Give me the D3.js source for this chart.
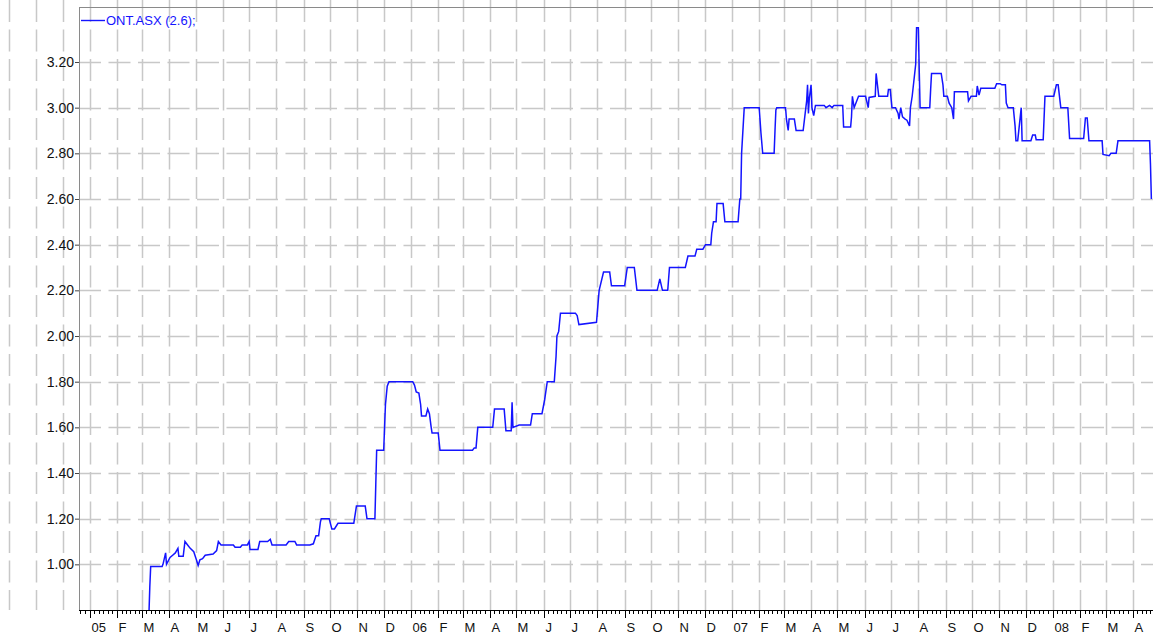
<!DOCTYPE html>
<html>
<head>
<meta charset="utf-8">
<script src="https://cdn.jsdelivr.net/npm/d3@7"></script>
<style>
  html, body { margin: 0; padding: 0; background: #fff; }
  svg { display: block; }
  text { font-family: "Liberation Sans", Arial, sans-serif; }
</style>
</head>
<body>
<div id="chart"></div>
<script>
// ONT.ASX daily close

const seriesName = "ONT.ASX (2.6);";

const tradeDates = [
  "2005-03-09","2005-03-10","2005-03-11","2005-03-24","2005-03-25","2005-03-28","2005-03-29","2005-04-02",
  "2005-04-05","2005-04-08","2005-04-11","2005-04-12","2005-04-17","2005-04-19","2005-04-22","2005-04-25",
  "2005-04-29","2005-05-02","2005-05-04","2005-05-06","2005-05-09","2005-05-12","2005-05-21","2005-05-25",
  "2005-05-27","2005-05-30","2005-06-13","2005-06-15","2005-06-21","2005-06-23","2005-06-29","2005-07-01",
  "2005-07-02","2005-07-11","2005-07-13","2005-07-22","2005-07-25","2005-07-27","2005-08-12","2005-08-15",
  "2005-08-22","2005-08-24","2005-09-08","2005-09-12","2005-09-15","2005-09-18","2005-09-20","2005-09-21",
  "2005-09-30","2005-10-03","2005-10-06","2005-10-10","2005-10-28","2005-10-31","2005-11-10","2005-11-12",
  "2005-11-21","2005-11-22","2005-11-23","2005-12-01","2005-12-02","2005-12-03","2005-12-05","2005-12-07",
  "2006-01-03","2006-01-05","2006-01-07","2006-01-10","2006-01-12","2006-01-13","2006-01-18","2006-01-20",
  "2006-01-22","2006-01-24","2006-01-25","2006-02-01","2006-02-03","2006-03-12","2006-03-14","2006-03-16",
  "2006-03-18","2006-04-04","2006-04-06","2006-04-17","2006-04-19","2006-04-25","2006-04-26","2006-04-27",
  "2006-05-04","2006-05-17","2006-05-19","2006-05-30","2006-06-01","2006-06-02","2006-06-05","2006-06-13",
  "2006-06-15","2006-06-16","2006-06-18","2006-06-20","2006-07-07","2006-07-09","2006-07-11","2006-07-31",
  "2006-08-03","2006-08-08","2006-08-15","2006-08-17","2006-09-01","2006-09-04","2006-09-12","2006-09-15",
  "2006-10-08","2006-10-11","2006-10-14","2006-10-20","2006-10-22","2006-11-09","2006-11-12","2006-11-20",
  "2006-11-22","2006-11-29","2006-12-02","2006-12-08","2006-12-09","2006-12-11","2006-12-14","2006-12-15",
  "2006-12-22","2006-12-24","2007-01-08","2007-01-10","2007-01-11","2007-01-12","2007-01-15","2007-02-01",
  "2007-02-02","2007-02-03","2007-02-05","2007-02-18","2007-02-19","2007-02-20","2007-02-21","2007-03-03",
  "2007-03-04","2007-03-06","2007-03-07","2007-03-13","2007-03-15","2007-03-23","2007-03-25","2007-03-27",
  "2007-03-28","2007-03-29","2007-03-30","2007-04-01","2007-04-02","2007-04-04","2007-04-06","2007-04-16",
  "2007-04-18","2007-04-22","2007-04-25","2007-04-27","2007-05-07","2007-05-08","2007-05-16","2007-05-17",
  "2007-05-18","2007-05-20","2007-05-25","2007-06-02","2007-06-05","2007-06-06","2007-06-13","2007-06-14",
  "2007-06-17","2007-06-27","2007-06-28","2007-06-30","2007-07-02","2007-07-06","2007-07-09","2007-07-10",
  "2007-07-12","2007-07-14","2007-07-17","2007-07-19","2007-07-22","2007-07-23","2007-07-25","2007-07-29",
  "2007-07-30","2007-08-01","2007-08-02","2007-08-03","2007-08-14","2007-08-15","2007-08-16","2007-08-27",
  "2007-08-29","2007-08-30","2007-09-03","2007-09-05","2007-09-08","2007-09-10","2007-09-11","2007-09-26",
  "2007-09-27","2007-09-30","2007-10-06","2007-10-07","2007-10-09","2007-10-11","2007-10-27","2007-10-29",
  "2007-11-02","2007-11-04","2007-11-08","2007-11-09","2007-11-11","2007-11-17","2007-11-19","2007-11-20",
  "2007-11-22","2007-11-26","2007-11-27","2007-12-07","2007-12-09","2007-12-12","2007-12-13","2007-12-21",
  "2007-12-23","2008-01-02","2008-01-05","2008-01-07","2008-01-10","2008-01-18","2008-01-20","2008-02-05",
  "2008-02-07","2008-02-09","2008-02-11","2008-02-26","2008-02-27","2008-03-05","2008-03-07","2008-03-13",
  "2008-03-15","2008-04-20","2008-04-21","2008-04-22"
];

const closes = [
  0.78, 0.90, 0.99, 0.99, 1.00, 1.05, 1.00, 1.03,
  1.04, 1.05, 1.07, 1.035, 1.035, 1.10, 1.085, 1.07,
  1.055, 1.02, 0.995, 1.02, 1.025, 1.04, 1.045, 1.06,
  1.10, 1.085, 1.085, 1.075, 1.075, 1.085, 1.085, 1.10,
  1.065, 1.065, 1.10, 1.10, 1.11, 1.085, 1.085, 1.10,
  1.10, 1.085, 1.085, 1.09, 1.125, 1.125, 1.185, 1.20,
  1.20, 1.155, 1.155, 1.18, 1.18, 1.255, 1.255, 1.20,
  1.20, 1.35, 1.50, 1.50, 1.60, 1.70, 1.78, 1.80,
  1.80, 1.785, 1.755, 1.75, 1.70, 1.65, 1.65, 1.68,
  1.66, 1.60, 1.575, 1.575, 1.50, 1.50, 1.51, 1.51,
  1.60, 1.60, 1.68, 1.68, 1.585, 1.585, 1.71, 1.60,
  1.61, 1.61, 1.66, 1.66, 1.70, 1.72, 1.80, 1.80,
  1.91, 2.00, 2.02, 2.10, 2.10, 2.09, 2.05, 2.06,
  2.20, 2.28, 2.28, 2.22, 2.22, 2.30, 2.30, 2.20,
  2.20, 2.25, 2.20, 2.20, 2.30, 2.30, 2.35, 2.35,
  2.38, 2.38, 2.40, 2.40, 2.45, 2.50, 2.50, 2.58,
  2.58, 2.50, 2.50, 2.60, 2.60, 2.80, 3.00, 3.00,
  2.945, 2.89, 2.80, 2.80, 2.90, 2.99, 3.00, 3.00,
  2.95, 2.90, 2.95, 2.95, 2.90, 2.90, 2.965, 3.03,
  3.10, 2.975, 3.04, 3.10, 3.00, 2.965, 3.01, 3.01,
  3.00, 3.01, 3.00, 3.01, 3.01, 2.915, 2.915, 2.96,
  3.05, 3.00, 3.05, 3.05, 3.00, 3.045, 3.05, 3.15,
  3.05, 3.05, 3.08, 3.08, 3.00, 3.00, 2.975, 2.95,
  3.00, 2.96, 2.95, 2.945, 2.92, 3.00, 3.05, 3.19,
  3.35, 3.35, 3.165, 3.00, 3.00, 3.08, 3.15, 3.15,
  3.10, 3.05, 3.05, 3.02, 3.00, 2.95, 3.07, 3.07,
  3.03, 3.05, 3.05, 3.095, 3.055, 3.085, 3.085, 3.105,
  3.105, 3.10, 3.10, 3.02, 3.00, 3.00, 2.92, 2.855,
  2.855, 3.00, 2.855, 2.855, 2.88, 2.88, 2.86, 2.86,
  3.05, 3.05, 3.10, 3.10, 3.00, 3.00, 2.865, 2.865,
  2.955, 2.955, 2.855, 2.855, 2.795, 2.79, 2.80, 2.80,
  2.855, 2.855, 2.75, 2.60
];

const yTickValues = [1.00, 1.20, 1.40, 1.60, 1.80, 2.00, 2.20, 2.40, 2.60, 2.80, 3.00, 3.20];
const monthInitials = ["J", "F", "M", "A", "M", "J", "J", "A", "S", "O", "N", "D"];

const width = 1153;
const height = 635;
const plot = { left: 79, top: 7, right: 1170, bottom: 610 };

const parse = d3.utcParse("%Y-%m-%d");
const data = tradeDates.map((d, i) => ({ date: parse(d), close: closes[i] }));

const x = d3.scaleUtc()
  .domain([parse("2005-01-01"), parse("2008-04-01")])
  .range([90, 1132.9]);

const y = d3.scaleLinear()
  .domain([0.8, 3.2])
  .range([plot.bottom, 62]);

const svg = d3.select("#chart").append("svg")
  .attr("width", width)
  .attr("height", height);

svg.append("rect").attr("width", width).attr("height", height).attr("fill", "#fff");

const gridColor = "#c8c8c8";
const dash = "22,7.5";

// vertical grid: one per month, runs over the whole picture incl. left margin
const gridMonths = d3.utcMonth.range(parse("2004-10-01"), parse("2008-06-01"));
svg.append("g")
  .selectAll("line")
  .data(gridMonths)
  .join("line")
  .attr("x1", d => Math.round(x(d)) + 0.5)
  .attr("x2", d => Math.round(x(d)) + 0.5)
  .attr("y1", 0)
  .attr("y2", plot.bottom)
  .attr("stroke", gridColor)
  .attr("stroke-width", 1.5)
  .attr("stroke-dasharray", dash);

// horizontal grid
svg.append("g")
  .selectAll("line")
  .data(yTickValues)
  .join("line")
  .attr("x1", plot.left)
  .attr("x2", width)
  .attr("y1", d => Math.round(y(d)) + 0.5)
  .attr("y2", d => Math.round(y(d)) + 0.5)
  .attr("stroke", gridColor)
  .attr("stroke-width", 1.5)
  .attr("stroke-dasharray", dash);

// frame: grey top and left, black bottom
svg.append("line")
  .attr("x1", plot.left).attr("x2", width)
  .attr("y1", plot.top + 0.5).attr("y2", plot.top + 0.5)
  .attr("stroke", "#8a8a8a");
svg.append("line")
  .attr("x1", plot.left + 0.5).attr("x2", plot.left + 0.5)
  .attr("y1", plot.top).attr("y2", plot.bottom)
  .attr("stroke", "#8a8a8a");

// y axis
const yAxis = svg.append("g")
  .attr("transform", `translate(${plot.left},0)`)
  .call(d3.axisLeft(y).tickValues(yTickValues).tickFormat(d3.format(".2f")).tickSize(4).tickPadding(1));
yAxis.select(".domain").remove();
yAxis.selectAll(".tick line").attr("stroke", "#444");
yAxis.selectAll("text").attr("font-size", 14).attr("fill", "#111").attr("font-family", null);

// x axis: minor ticks every 5 days, major at month starts
const xg = svg.append("g").attr("transform", `translate(0,${plot.bottom})`);
xg.append("line")
  .attr("x1", plot.left).attr("x2", width)
  .attr("y1", 0.5).attr("y2", 0.5)
  .attr("stroke", "#000");

const minorDays = d3.utcDay.range(parse("2004-12-01"), parse("2008-06-01"))
  .filter(d => [6, 11, 16, 21, 26].includes(d.getUTCDate()))
  .filter(d => x(d) > plot.left && x(d) < width);
xg.selectAll(".minor")
  .data(minorDays)
  .join("line")
  .attr("class", "minor")
  .attr("x1", d => Math.round(x(d)) + 0.5)
  .attr("x2", d => Math.round(x(d)) + 0.5)
  .attr("y1", 0).attr("y2", 4)
  .attr("stroke", "#000");

const tickMonths = d3.utcMonth.range(parse("2005-01-01"), parse("2008-05-01"))
  .filter(d => x(d) < width);
xg.selectAll(".major")
  .data(tickMonths)
  .join("line")
  .attr("class", "major")
  .attr("x1", d => Math.round(x(d)) + 0.5)
  .attr("x2", d => Math.round(x(d)) + 0.5)
  .attr("y1", 0).attr("y2", 8)
  .attr("stroke", "#000");

xg.selectAll(".mlabel")
  .data(tickMonths)
  .join("text")
  .attr("class", "mlabel")
  .attr("x", d => Math.round(x(d)) + 1.5)
  .attr("y", 22)
  .attr("font-size", 13)
  .attr("fill", "#111")
  .text(d => d.getUTCMonth() === 0 ? d3.utcFormat("%y")(d) : monthInitials[d.getUTCMonth()]);

// price line
svg.append("clipPath").attr("id", "plot-clip")
  .append("rect")
  .attr("x", plot.left + 1).attr("y", plot.top + 1)
  .attr("width", plot.right - plot.left).attr("height", plot.bottom - plot.top - 1);

const line = d3.line()
  .x(d => x(d.date))
  .y(d => y(d.close));

svg.append("path")
  .datum(data)
  .attr("clip-path", "url(#plot-clip)")
  .attr("fill", "none")
  .attr("stroke", "#1414ff")
  .attr("stroke-width", 1.5)
  .attr("stroke-linejoin", "miter")
  .attr("d", line);

// legend
const legend = svg.append("g");
legend.append("line")
  .attr("x1", 81).attr("x2", 105)
  .attr("y1", 20.5).attr("y2", 20.5)
  .attr("stroke", "#1414ff")
  .attr("stroke-width", 1.4);
legend.append("text")
  .attr("x", 106).attr("y", 25)
  .attr("font-size", 13)
  .attr("fill", "#1414ff")
  .text(seriesName);
</script>
</body>
</html>
